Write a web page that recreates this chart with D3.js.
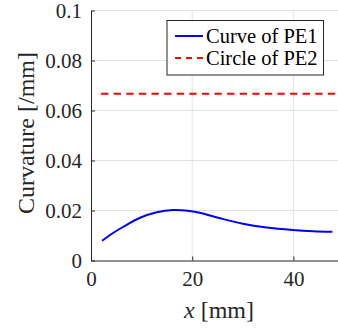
<!DOCTYPE html>
<html>
<head>
<meta charset="utf-8">
<script src="https://cdn.jsdelivr.net/npm/d3@7"></script>
<style>
  body { margin: 0; background: #fff; }
  svg { display: block; }
</style>
</head>
<body>
<div></div>
<script>
// curvature of PE1
const xValues = [2.2, 4.2, 6.4, 9.7, 13, 16.2, 19.5, 21.5, 25.5, 30, 34.7, 39.9, 43.9, 47.7];
const curveValues = [0.0079, 0.0108, 0.0135, 0.0171, 0.0193, 0.0202, 0.0198, 0.0191, 0.0169, 0.0147, 0.0132, 0.0122, 0.0117, 0.0115];
// constant circle curvature of PE2 (1/15 mm)
const circleX = [2, 50];
const circleValue = 0.0667;
const xTicks = [0, 20, 40];
const yTicks = [0, 0.02, 0.04, 0.06, 0.08, 0.1];
const seriesNames = ["Curve of PE1", "Circle of PE2"];

const serif = "'Liberation Serif', 'Times New Roman', serif";

const margin = { top: 10.5, left: 91 };
const width = 253;
const height = 250;

const svg = d3.select("div")
    .append("svg")
    .attr("width", 338)
    .attr("height", 329)
    .attr("font-family", serif);

const g = svg.append("g")
    .attr("transform", `translate(${margin.left}, ${margin.top})`);

const x_scale = d3.scaleLinear().domain([0, 50]).range([0, width]);
const y_scale = d3.scaleLinear().domain([0, 0.1]).range([height, 0]);

// grid
g.append("g")
    .selectAll("line")
    .data(xTicks.slice(1))
    .enter()
    .append("line")
        .attr("x1", d => x_scale(d)).attr("x2", d => x_scale(d))
        .attr("y1", 0).attr("y2", height)
        .attr("stroke", "#e3e3e3");

g.append("g")
    .selectAll("line")
    .data(yTicks.slice(1))
    .enter()
    .append("line")
        .attr("x1", 0).attr("x2", width)
        .attr("y1", d => y_scale(d)).attr("y2", d => y_scale(d))
        .attr("stroke", "#e3e3e3");

// axes
const x_axis = d3.axisBottom(x_scale).tickValues(xTicks).tickSizeInner(-4).tickSizeOuter(0).tickPadding(10);
const y_axis = d3.axisLeft(y_scale).tickValues(yTicks).tickSizeInner(-4).tickSizeOuter(0).tickPadding(9)
    .tickFormat(d => d === 0 ? "0" : String(+d.toFixed(2)));

const xg = g.append("g")
    .attr("transform", `translate(0, ${height})`)
    .call(x_axis);
const yg = g.append("g").call(y_axis);

[xg, yg].forEach(a => {
    a.attr("font-family", serif).attr("font-size", 21);
    a.select(".domain").attr("stroke", "#262626").attr("stroke-width", 1);
    a.selectAll(".tick line").attr("stroke", "#262626");
    a.selectAll(".tick text").attr("fill", "#262626");
});
yg.selectAll(".tick text").attr("dy", "0.33em");
xg.selectAll(".tick text").attr("dy", "0.72em");

// circle of PE2
g.append("line")
    .attr("x1", x_scale(circleX[0])).attr("x2", x_scale(circleX[1]))
    .attr("y1", y_scale(circleValue)).attr("y2", y_scale(circleValue))
    .attr("stroke", "#ff0000")
    .attr("stroke-width", 2)
    .attr("stroke-dasharray", "7.3,5.3");

// curve of PE1
const line = d3.line()
    .x(d => x_scale(d[0]))
    .y(d => y_scale(d[1]))
    .curve(d3.curveCatmullRom);

g.append("path")
    .datum(xValues.map((v, i) => [v, curveValues[i]]))
    .attr("d", line)
    .attr("fill", "none")
    .attr("stroke", "#0000ff")
    .attr("stroke-width", 2);

// labels
svg.append("text")
    .attr("transform", "translate(34, 133) rotate(-90)")
    .attr("text-anchor", "middle")
    .attr("font-size", 24)
    .attr("fill", "#262626")
    .text("Curvature [/mm]");

const xl = svg.append("text")
    .attr("x", 219)
    .attr("y", 318)
    .attr("text-anchor", "middle")
    .attr("font-size", 24)
    .attr("fill", "#262626");
xl.append("tspan").attr("font-style", "italic").text("x");
xl.append("tspan").text(" [mm]");

// legend
const legend = svg.append("g");
legend.append("rect")
    .attr("x", 167).attr("y", 20.5)
    .attr("width", 156.5).attr("height", 54.5)
    .attr("fill", "#fff")
    .attr("stroke", "#262626")
    .attr("stroke-width", 1);

const legendRows = [
    { name: seriesNames[0], color: "#0000ff", dash: null, y: 36 },
    { name: seriesNames[1], color: "#ff0000", dash: "6,5", y: 58 }
];
legendRows.forEach(r => {
    legend.append("line")
        .attr("x1", 175).attr("x2", 203)
        .attr("y1", r.y).attr("y2", r.y)
        .attr("stroke", r.color)
        .attr("stroke-width", 2)
        .attr("stroke-dasharray", r.dash);
    legend.append("text")
        .attr("x", 206)
        .attr("y", r.y + 7.3)
        .attr("font-size", 20.5)
        .attr("fill", "#000")
        .text(r.name);
});
</script>
</body>
</html>
